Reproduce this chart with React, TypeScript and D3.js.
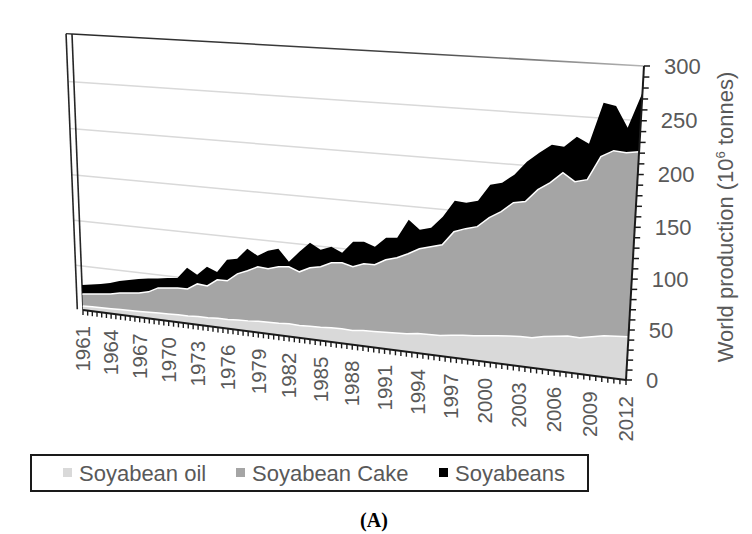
import React from 'react';
import * as d3 from 'd3';

const years = d3.range(1961, 2013);
const soyabeans = [
  28.5, 30.3, 32.2, 34.6, 38.1, 40.5, 42.9, 44.5, 46.0, 47.6,
  49.1, 61.4, 55.0, 64.9, 60.7, 75.0, 77.3, 89.2, 82.9, 89.4,
  92.7, 80.2, 91.9, 102.6, 96.4, 100.7, 95.7, 108.3, 109.4, 105.5,
  115.9, 117.0, 136.4, 127.4, 130.6, 142.7, 159.7, 158.8, 161.8, 178.5,
  181.5, 190.2, 203.7, 213.2, 221.7, 220.6, 230.9, 225.2, 264.2, 262.1,
  242.7, 275.6,
];
const soyabeanCake = [
  18.3, 19.6, 20.9, 22.2, 24.7, 26.0, 27.3, 29.8, 35.5, 36.8,
  38.1, 38.3, 45.1, 44.2, 52.1, 52.3, 61.1, 65.6, 71.1, 70.2,
  73.6, 74.9, 70.8, 76.3, 78.6, 84.0, 85.3, 82.3, 86.7, 86.9,
  93.3, 96.6, 101.9, 108.1, 111.4, 114.6, 128.8, 133.0, 136.1, 146.1,
  153.1, 163.0, 165.1, 177.7, 185.5, 196.0, 188.4, 191.3, 214.0, 220.5,
  219.4, 221.3,
];
const soyabeanOil = [
  4.6, 5.0, 5.3, 5.6, 5.9, 6.3, 6.6, 7.0, 7.6, 7.9,
  8.3, 8.4, 9.3, 9.3, 10.2, 10.0, 11.0, 11.4, 12.3, 12.6,
  13.0, 13.8, 13.3, 13.9, 14.4, 15.2, 15.6, 15.3, 16.5, 17.0,
  17.6, 18.2, 19.0, 20.6, 21.0, 21.4, 23.2, 24.6, 25.4, 26.9,
  28.3, 29.5, 30.4, 30.6, 33.5, 35.2, 36.8, 36.4, 39.0, 41.5,
  42.3, 43.2,
];
const yTicks = [0, 50, 100, 150, 200, 250, 300];
const xTickLabels = years.filter((y, i) => i % 3 === 0);

const seriesNames = ['Soyabean oil', 'Soyabean Cake', 'Soyabeans'];
const seriesColors = ['#d9d9d9', '#a5a5a5', '#000000'];

const FONT = 'Liberation Sans, Arial, sans-serif';
const TEXT = '#595959';

// square -> quad perspective mapping (corners of the tilted plot plane)
function makeProjection(p0: number[], p1: number[], p2: number[], p3: number[]) {
  const sx = p0[0] - p1[0] + p2[0] - p3[0];
  const sy = p0[1] - p1[1] + p2[1] - p3[1];
  const dx1 = p1[0] - p2[0], dx2 = p3[0] - p2[0];
  const dy1 = p1[1] - p2[1], dy2 = p3[1] - p2[1];
  const det = dx1 * dy2 - dx2 * dy1;
  const g = (sx * dy2 - dx2 * sy) / det;
  const h = (dx1 * sy - sx * dy1) / det;
  const a = p1[0] - p0[0] + g * p1[0];
  const b = p3[0] - p0[0] + h * p3[0];
  const c = p0[0];
  const d = p1[1] - p0[1] + g * p1[1];
  const e = p3[1] - p0[1] + h * p3[1];
  const f = p0[1];
  return (u: number, v: number): [number, number] => {
    const w = g * u + h * v + 1;
    return [(a * u + b * v + c) / w, (d * u + e * v + f) / w];
  };
}

export default function App() {
  const proj = makeProjection([83, 310], [626, 380], [644, 66], [72, 34]);

  const scaleX = d3.scaleLinear().domain([1961, 2012]).range([0, 1]);
  const scaleY = d3.scaleLinear().domain([0, 300]).range([0, 1]);

  const makeArea = (vals: number[]) =>
    d3.area<number>()
      .x0((d, i) => proj(scaleX(years[i]), 0)[0])
      .y0((d, i) => proj(scaleX(years[i]), 0)[1])
      .x1((d, i) => proj(scaleX(years[i]), scaleY(d))[0])
      .y1((d, i) => proj(scaleX(years[i]), scaleY(d))[1])(vals) as string;

  const makeTop = (vals: number[]) =>
    d3.line<number>()
      .x((d, i) => proj(scaleX(years[i]), scaleY(d))[0])
      .y((d, i) => proj(scaleX(years[i]), scaleY(d))[1])(vals) as string;

  const seg = (u0: number, v0: number, u1: number, v1: number) => {
    const p = proj(u0, v0), q = proj(u1, v1);
    return { x1: p[0], y1: p[1], x2: q[0], y2: q[1] };
  };

  const wallU = -0.012;
  const xTicks = d3.range(1961, 2012.01, 0.5);
  const yMinor = d3.range(0, 301, 10);

  return (
    <svg width={752} height={534} style={{ position: 'absolute', left: 0, top: 0, background: '#fff' }}
      fontFamily={FONT}>
      <defs>
        <linearGradient id="topEdge" gradientUnits="userSpaceOnUse" x1={72} y1={0} x2={644} y2={0}>
          <stop offset="0" stopColor="#2a2a2a" />
          <stop offset="0.6" stopColor="#444" />
          <stop offset="1" stopColor="#b5b5b5" />
        </linearGradient>
      </defs>

      {/* gridlines */}
      {yTicks.filter(t => t > 0 && t < 300).map(t => (
        <line key={'g' + t} {...seg(wallU, scaleY(t), 1, scaleY(t))} stroke="#d9d9d9" strokeWidth={1.5} />
      ))}

      {/* frame: top edge and left wall */}
      <line {...seg(0, 1, 1, 1)} stroke="url(#topEdge)" strokeWidth={1.6} />
      <line {...seg(wallU, 1, 0, 1)} stroke="#333" strokeWidth={1.4} />
      <line {...seg(wallU, 1, wallU, 0)} stroke="#262626" strokeWidth={1.6} />
      <line {...seg(0, 1, 0, 0)} stroke="#262626" strokeWidth={1.6} />

      {/* areas, back to front */}
      <path d={makeArea(soyabeans)} fill={seriesColors[2]} />
      <path d={makeArea(soyabeanCake)} fill={seriesColors[1]} />
      <path d={makeTop(soyabeanCake)} fill="none" stroke="#fff" strokeWidth={1.5} />
      <path d={makeArea(soyabeanOil)} fill={seriesColors[0]} />
      <path d={makeTop(soyabeanOil)} fill="none" stroke="#fff" strokeWidth={1.5} />

      {/* category axis */}
      <line {...seg(0, 0, 1, 0)} stroke="#1a1a1a" strokeWidth={2} />
      {xTicks.map(t => {
        const p = proj(scaleX(t), 0);
        return <line key={'xt' + t} x1={p[0]} y1={p[1]} x2={p[0]} y2={p[1] + 5} stroke="#1a1a1a" strokeWidth={1.4} />;
      })}
      {xTickLabels.map(yr => {
        const p = proj(scaleX(yr), 0);
        return (
          <text key={'xl' + yr} transform={`translate(${p[0]},${p[1] + 16}) rotate(-90)`}
            textAnchor="end" dy="0.35em" fontSize={20.5} fill={TEXT}>{yr}</text>
        );
      })}

      {/* value axis */}
      <line {...seg(1, 0, 1, 1)} stroke="#1a1a1a" strokeWidth={2} />
      {yMinor.map(t => {
        const p = proj(1, scaleY(t));
        return <line key={'yt' + t} x1={p[0]} y1={p[1]} x2={p[0] + 6} y2={p[1]} stroke="#1a1a1a" strokeWidth={1.5} />;
      })}
      {yTicks.map(t => {
        const p = proj(1, scaleY(t));
        return (
          <text key={'yl' + t} x={p[0] + 20} y={p[1]} dy="0.35em" fontSize={22} fill={TEXT}>{t}</text>
        );
      })}
      <text transform="translate(733,217) rotate(-90)" textAnchor="middle" fontSize={22} fill={TEXT}>
        World production (10<tspan dy={-8} fontSize={13}>6</tspan><tspan dy={8}> tonnes)</tspan>
      </text>

      {/* legend */}
      <rect x={31} y={455} width={557} height={36} fill="#fff" stroke="#1a1a1a" strokeWidth={2} />
      {seriesNames.map((name, i) => {
        const xs = [63, 236, 439][i];
        return (
          <g key={name}>
            <rect x={xs} y={468} width={9} height={9} fill={seriesColors[i]} />
            <text x={xs + 16} y={481} fontSize={22} fill={TEXT}>{name}</text>
          </g>
        );
      })}

      {/* panel caption */}
      <text x={374} y={527} textAnchor="middle" fontFamily="Liberation Serif, Times New Roman, serif"
        fontWeight="bold" fontSize={20} fill="#000">(A)</text>
    </svg>
  );
}
